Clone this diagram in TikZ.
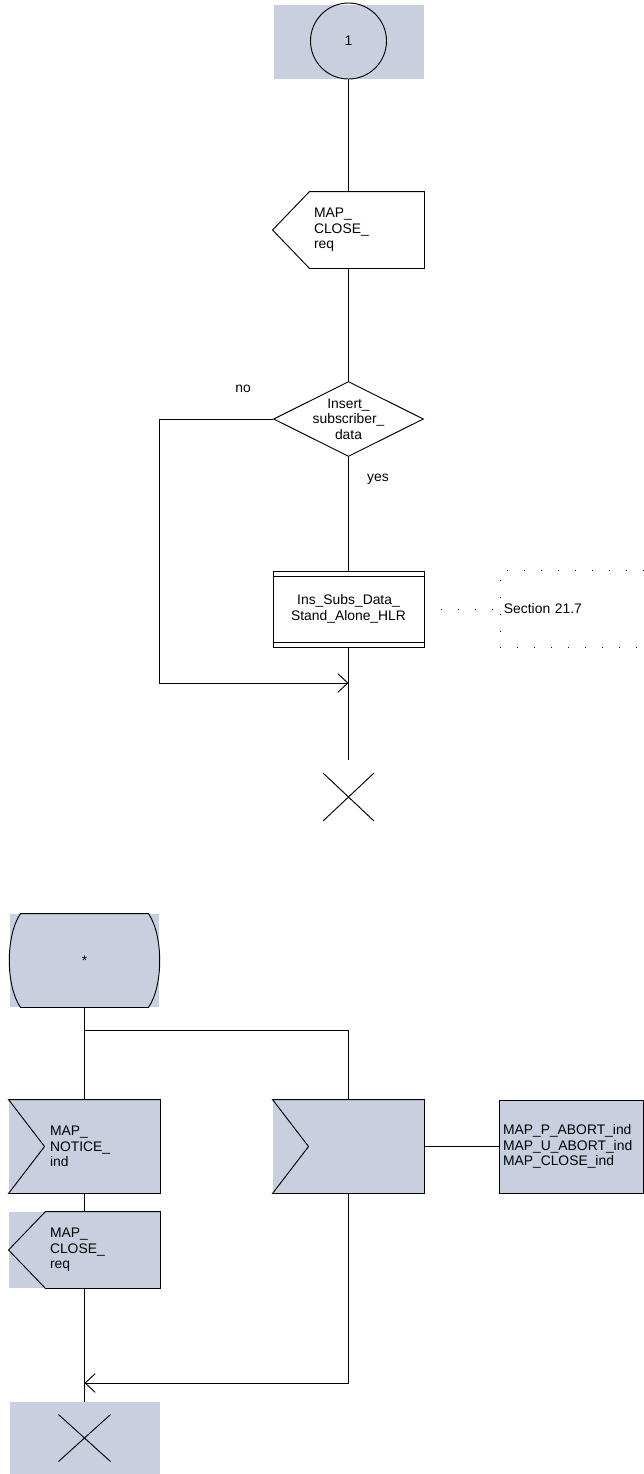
\documentclass[tikz,border=0pt]{standalone}
\usepackage{fontspec}
\setmainfont{Liberation Sans}
\usetikzlibrary{shapes.geometric,shapes.misc,arrows.meta}
\definecolor{sdlgrey}{HTML}{C8CFDE}
\newcommand{\sdlfont}{\fontsize{10.4pt}{11.6pt}\selectfont}
\newcommand{\sendoutline}[1]{%
    \draw (#1.north east) -- (#1.south east) -- ([shift={(37,0)}]#1.south west)
        -- (#1.west) -- ([shift={(37,0)}]#1.north west) -- cycle;}
\newcommand{\recvoutline}[1]{%
    \draw (#1.north west) -- (#1.north east) -- (#1.south east) -- (#1.south west)
        -- ([shift={(36,0)}]#1.west) -- cycle;}
\newcommand{\stateoutline}[1]{%
    \draw ([shift={(11,0)}]#1.north west) -- ([shift={(-11,0)}]#1.north east)
        .. controls ([shift={(4,22)}]#1.north east) and ([shift={(4,-22)}]#1.south east)
        .. ([shift={(-11,0)}]#1.south east) -- ([shift={(11,0)}]#1.south west)
        .. controls ([shift={(-4,-22)}]#1.south west) and ([shift={(-4,22)}]#1.north west)
        .. cycle;}

\begin{document}
\begin{tikzpicture}[x=0.75pt, y=-0.75pt, line width=0.7pt,
    every node/.style={font=\sdlfont},
    flowarrow/.style={-{Straight Barb[length=7.5pt,width=14pt]}},
    sigbox/.style={rectangle, minimum width=113.25pt, minimum height=57pt,
        text width=51.75pt, inner xsep=0pt, align=left},
    inbox/.style={sigbox, minimum height=69.75pt},
    greybox/.style={fill=sdlgrey},
    decision/.style={diamond, draw, minimum width=112.5pt, minimum height=56.25pt, inner sep=0pt},
    procbox/.style={rectangle, draw, minimum width=113.25pt, minimum height=57pt, align=center},
    notebox/.style={rectangle, minimum width=107.25pt, minimum height=57pt,
        text width=102pt, inner xsep=2.5pt, align=left},
    notedots/.style={dash pattern=on 0.75pt off 12pt},
    stopcross/.style={cross out, draw, minimum width=37.5pt, minimum height=35.25pt, inner sep=0pt},
    stopgrey/.style={rectangle, fill=sdlgrey, minimum width=112.5pt, minimum height=54pt,
        path picture={\draw (path picture bounding box.center) +(-26,-23.5) -- +(26,23.5)
            (path picture bounding box.center) +(-26,23.5) -- +(26,-23.5);}},
    statebox/.style={rectangle, fill=sdlgrey, minimum width=111.75pt, minimum height=69.75pt}]

    \useasboundingbox (0,0) rectangle (643,1474);

    % Part 1
        %% connector 1
        \fill [sdlgrey] (274,5) rectangle (424,79);
        \node [circle, draw, minimum size=57pt, inner sep=0pt] (con1) at (348.5,41) {1};

        %% close request
        \node [sigbox] (close1) at (348.5,230) {MAP\_\\CLOSE\_\\req};
        \sendoutline{close1}

        %% decision
        \node [decision, label={[align=center]center:{Insert\_\\subscriber\_\\data}}] (dec) at (348.5,419) {};
        \node (lblno) at (243,389) {no};
        \node (lblyes) at (378,479) {yes};

        %% procedure call
        \node [procbox] (proc) at (348.5,609) {Ins\_Subs\_Data\_\\Stand\_Alone\_HLR};
        \draw ([shift={(0,6)}]proc.north west) -- ([shift={(0,6)}]proc.north east);
        \draw ([shift={(0,-5)}]proc.south west) -- ([shift={(0,-5)}]proc.south east);
        \node [notebox, anchor=west] (note) at (500,609) {Section 21.7};
        \draw [notedots] (note.north east) -- (note.north west) -- (note.south west) -- (note.south east);
        \draw [notedots] (proc.east) -- (note.west);

        %% stop
        \coordinate (join1) at (348.5,683);
        \node [stopcross] (stop1) at (348.5,797) {};

        \draw (con1) -- (close1);
        \draw (close1) -- (dec);
        \draw (dec) -- (proc);
        \draw [flowarrow] (dec.west) -- ++(-114,0) |- (join1);
        \draw [shorten >=9.75pt] (proc) -- (stop1);

    % Part 2
        %% any state
        \node [statebox] (start) at (84.5,960.5) {*};
        \stateoutline{start}

        %% inputs
        \node [inbox, greybox] (notice) at (84.5,1146.5) {MAP\_\\NOTICE\_\\ind};
        \recvoutline{notice}
        \node [inbox, greybox] (abort) at (348.5,1146.5) {};
        \recvoutline{abort}
        \node [inbox, greybox, draw, minimum width=108pt, text width=102pt] (abortlist) at (571,1146.5)
            {MAP\_P\_ABORT\_ind\\MAP\_U\_ABORT\_ind\\MAP\_CLOSE\_ind};

        %% close request
        \node [sigbox, greybox] (close2) at (84.5,1250) {MAP\_\\CLOSE\_\\req};
        \sendoutline{close2}

        %% stop
        \node [stopgrey] (stop2) at (84.5,1438) {};

        \coordinate (fork) at (84.5,1030);
        \coordinate (join2) at (84.5,1383);
        \draw (start) -- (notice);
        \draw (fork) -| (abort);
        \draw (abort) -- (abortlist);
        \draw (notice) -- (close2);
        \draw [flowarrow] (abort) |- (join2);
        \draw (close2) -- (stop2);

\end{tikzpicture}
\end{document}
